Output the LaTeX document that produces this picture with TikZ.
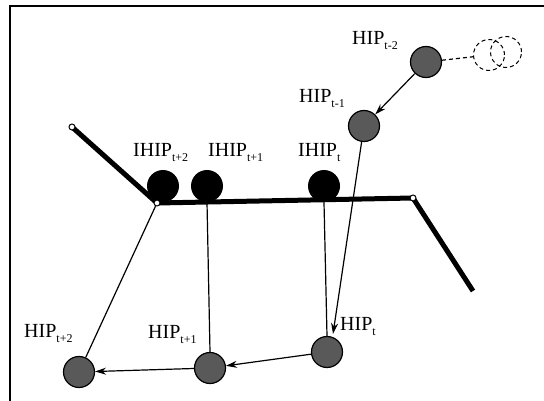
\documentclass[tikz,border=0pt]{standalone}
\usepackage{fontspec}
\setmainfont{Liberation Serif}
\usetikzlibrary{arrows.meta}
% label with a lowered small subscript
\newcommand\sublabel[2]{#1\raisebox{-5pt}{\fontsize{12}{12}\selectfont #2}}
\begin{document}
\begin{tikzpicture}[x=1pt,y=-1pt,
  hipball/.style={circle,draw=black,line width=1.2pt,fill=black!65,minimum size=31pt,inner sep=0pt},
  ihipball/.style={circle,fill=black,minimum size=32pt,inner sep=0pt},
  ghost/.style={circle,draw=black,dashed,line width=1pt,dash pattern=on 4pt off 3pt,minimum size=31pt,inner sep=0pt},
  pin/.style={circle,draw=black,fill=white,line width=1pt,minimum size=6pt,inner sep=0pt},
  lbl/.style={anchor=base west,inner sep=0pt,font=\fontsize{20}{20}\selectfont},
  bar/.style={line width=5pt,line join=round},
  link/.style={line width=1.2pt},
  move/.style={line width=1.2pt,-{Stealth[length=11pt,width=7pt]}}]
\useasboundingbox (0,0) rectangle (544,401);

% frame
\draw[line width=2pt] (10,401) -- (10,6) -- (544,6);

% hand positions over time
\node[hipball] (hm2) at (426,62) {};
\node[hipball] (hm1) at (364,126) {};
\node[hipball] (ht)  at (327,352) {};
\node[hipball] (hp1) at (210,368) {};
\node[hipball] (hp2) at (79,372) {};

% earlier positions, shown dashed
\node[ghost] (g1) at (489,55) {};
\node[ghost] (g2) at (506,52) {};
\draw[link,dashed,dash pattern=on 4pt off 3pt] (hm2) -- (g1);

% contact points on the surface
\node[ihipball] (ip2) at (163,186) {};
\node[ihipball] (ip1) at (207,186) {};
\node[ihipball] (ipt) at (324,186) {};

% surface
\coordinate (sl) at (72,127);
\coordinate (sm) at (157,203);
\coordinate (sr) at (413,198);
\coordinate (se) at (473,291);
\draw[bar] (sl) -- (sm) -- (sr) -- (se);
\node[pin] (pl) at (sl) {};
\node[pin] (pm) at (sm) {};
\node[pin] (pr) at (sr) {};

% links between contact points and hand positions
\draw[link] (ipt.south) -- (ht.north);
\draw[link] (ip1.south) -- (hp1.north);
\draw[link] (pm) -- (hp2);

% motion
\coordinate (tipT) at (333,334);
\draw[move] (hm2) -- (hm1);
\draw[move] (hm1) -- (tipT);
\draw[move] (ht) -- (hp1);
\draw[move] (hp1) -- (hp2);

% labels
\node[lbl] (lm2) at (352,45)  {\sublabel{HIP}{t-2}};
\node[lbl] (lm1) at (299,103) {\sublabel{HIP}{t-1}};
\node[lbl] (lt)  at (340,330) {\sublabel{HIP}{t}};
\node[lbl] (lp1) at (148,338) {\sublabel{HIP}{t+1}};
\node[lbl] (lp2) at (24,337)  {\sublabel{HIP}{t+2}};
\node[lbl] (li2) at (133,157) {\sublabel{IHIP}{t+2}};
\node[lbl] (li1) at (208,157) {\sublabel{IHIP}{t+1}};
\node[lbl] (lit) at (298,157) {\sublabel{IHIP}{t}};
\end{tikzpicture}
\end{document}
